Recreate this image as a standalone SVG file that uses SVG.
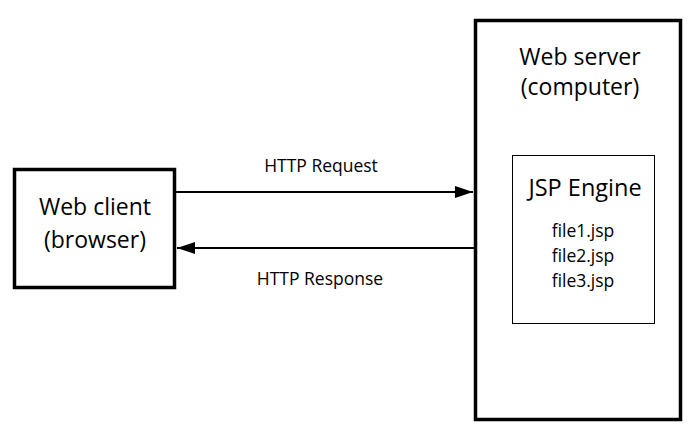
<svg xmlns="http://www.w3.org/2000/svg" width="698" height="441" viewBox="0 0 698 441">
<defs>
<style>
text{font-family:"Open Sans","Noto Sans","DejaVu Sans",sans-serif;fill:#000;text-anchor:middle}
.big{font-size:23px}
.mid{font-size:23.5px}
.sm{font-size:17.5px}
.lbl{font-size:17.5px}
.thick{fill:#fff;stroke:#000;stroke-width:3.5}
.thin{fill:#fff;stroke:#000;stroke-width:1}
.conn{stroke:#000;stroke-width:2;fill:none}
</style>
<marker id="arr" viewBox="0 0 18 12" refX="18" refY="6" markerWidth="18" markerHeight="12" markerUnits="userSpaceOnUse" orient="auto">
<path d="M0,0 L18,6 L0,12 Z" fill="#000"/>
</marker>
</defs>
<rect width="698" height="441" fill="#fff"/>
<g id="client">
<rect class="thick" x="14.5" y="169.5" width="160" height="118"/>
<text class="big" x="95" y="215">Web client</text>
<text class="big" x="95" y="248">(browser)</text>
</g>
<g id="server">
<rect class="thick" x="475.5" y="20.5" width="205" height="399"/>
<text class="big" x="580" y="65">Web server</text>
<text class="big" x="580" y="95">(computer)</text>
</g>
<g id="engine">
<rect class="thin" x="512.5" y="155.5" width="142" height="168"/>
<text class="mid" x="585" y="196">JSP Engine</text>
<text class="sm" x="583" y="237">file1.jsp</text>
<text class="sm" x="583" y="262">file2.jsp</text>
<text class="sm" x="583" y="287">file3.jsp</text>
</g>
<g id="connectors">
<line class="conn" x1="176" y1="192" x2="473" y2="192" marker-end="url(#arr)"/>
<line class="conn" x1="474" y1="248" x2="177" y2="248" marker-end="url(#arr)"/>
<text class="lbl" x="321" y="172">HTTP Request</text>
<text class="lbl" x="320" y="285">HTTP Response</text>
</g>
</svg>
